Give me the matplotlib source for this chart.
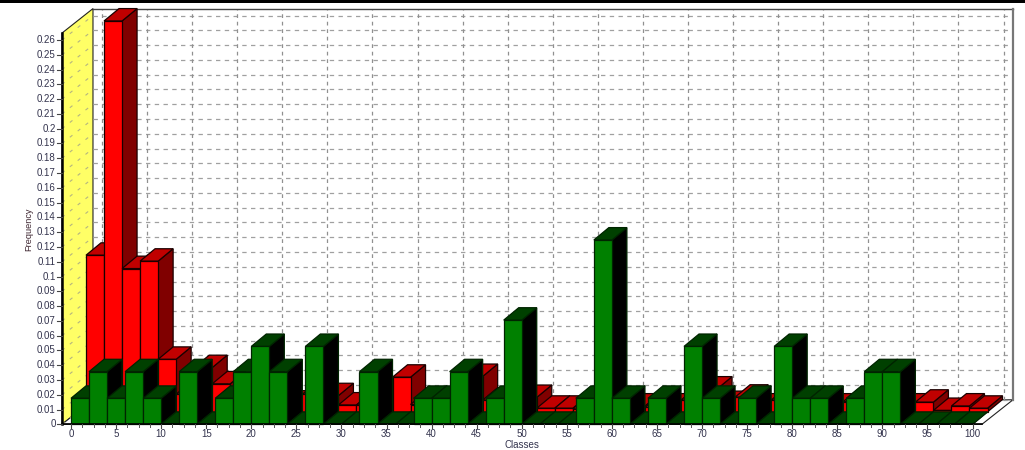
import numpy as np
from matplotlib import pyplot as plt
from matplotlib.patches import Polygon, Rectangle

plt.rcParams['font.family'] = ['Liberation Sans', 'DejaVu Sans']

# histogram classes, one bar every 2 units
classes = np.arange(0, 100, 2)

freq_back = [0.106, 0.2645, 0.097, 0.102, 0.0356, 0.012, 0.03, 0.019, 0.006, 0.004,
             0.004, 0.006, 0.012, 0.011, 0.0047, 0.0047, 0.004, 0.0235, 0.005, 0.004,
             0.004, 0.024, 0.008, 0.004, 0.0098, 0.0025, 0.0025, 0.002, 0.004, 0.004,
             0.004, 0.003, 0.004, 0.008, 0.0155, 0.0057, 0.01, 0.004, 0.008, 0.004,
             0.004, 0.004, 0.007, 0.004, 0.004, 0.004, 0.0066, 0.001, 0.004, 0.0025]

freq_front = [0.0176, 0.0356, 0.0176, 0.0356, 0.0176, 0, 0.0356, 0, 0.0176, 0.0356,
              0.0527, 0.0356, 0, 0.0527, 0, 0, 0.0356, 0, 0, 0.0176,
              0.0176, 0.0356, 0, 0.0176, 0.0705, 0, 0, 0, 0.0176, 0.1247,
              0.0176, 0, 0.0176, 0, 0.0527, 0.0176, 0, 0.0176, 0, 0.0527,
              0.0176, 0.0176, 0, 0.0176, 0.0356, 0.0356, 0, 0, 0, 0]

y_ticks = np.arange(0, 0.265, 0.01)
x_ticks = np.arange(0, 101, 5)
x_minor = np.arange(0, 100.1, 1.25)

# scale of the drawing
px_x = 9.015
px_y = 1478.0
x0_px = 71.0
y0_px = 424.3

# oblique projection offsets in data units
row_dx = 15.0 / px_x
row_dy = 12.4 / px_y
wall_dx = 31.0 / px_x
wall_dy = 24.5 / px_y
y_top = 0.2647
x_left = -1.0
x_right = 101.05
bar_w = 2.0

fig = plt.figure(figsize=(10.25, 4.5), dpi=100)
ax = fig.add_axes([0, 0, 1, 1])
ax.set_xlim(-x0_px / px_x, (1025 - x0_px) / px_x)
ax.set_ylim((y0_px - 450) / px_y, y0_px / px_y)
ax.axis('off')

# walls and floor
ax.add_patch(Polygon([(x_left, 0), (x_left + wall_dx, wall_dy), (x_left + wall_dx, wall_dy + y_top), (x_left, y_top)],
                     fc='#FFFF66', ec='#222222', lw=0.8, zorder=1))
ax.add_patch(Polygon([(x_left, 0), (x_left + wall_dx, wall_dy), (x_right + wall_dx, wall_dy), (x_right, 0)],
                     fc='white', ec='#222222', lw=0.8, zorder=1))

# dashed grid on the back wall and side wall
for v in y_ticks:
    ax.plot([x_left + wall_dx, x_right + wall_dx], [v + wall_dy, v + wall_dy], color='#a0a0a0', lw=0.9,
            dashes=(3.5, 3.5), zorder=2)
    ax.plot([x_left, x_left + wall_dx], [v, v + wall_dy], color='#b5b580', lw=0.8, dashes=(3, 6), zorder=2)
for c in x_ticks:
    ax.plot([c + wall_dx, c + wall_dx], [wall_dy, wall_dy + y_top], color='#909090', lw=0.9,
            dashes=(3, 3), zorder=2)

# frame of the back wall
ax.plot([x_left + wall_dx, x_right + wall_dx], [wall_dy + y_top, wall_dy + y_top], color='#444444', lw=1, zorder=2)
ax.plot([x_right + wall_dx, x_right + wall_dx], [wall_dy, wall_dy + y_top], color='#777777', lw=1.6, zorder=2)


def draw_row(xs, heights, dx, dy, front, top, side, edge, z):
    for x, h in zip(xs, heights):
        left = x + dx
        right = left + bar_w
        base = dy
        ax.add_patch(Polygon([(right, base), (right + row_dx, base + row_dy), (right + row_dx, base + h + row_dy),
                              (right, base + h)], fc=side, ec=edge, lw=0.9, zorder=z))
        ax.add_patch(Polygon([(left, base + h), (right, base + h), (right + row_dx, base + h + row_dy),
                              (left + row_dx, base + h + row_dy)], fc=top, ec=edge, lw=0.9, zorder=z))
        if h > 0:
            ax.bar(left, h, bar_w, bottom=base, align='edge', color=front, edgecolor=edge, lw=0.9, zorder=z)
        z += 1
    return z


z = draw_row(classes, freq_back, row_dx, row_dy, '#FF0000', '#C00000', '#800000', '#1a0000', 10)
draw_row(classes, freq_front, 0, 0, '#008000', '#004000', '#000000', '#002400', z)

# axes lines, ticks and labels
ax.plot([x_left, x_left], [0, y_top], color='black', lw=1.8, zorder=200)
ax.plot([x_left, x_right], [0, 0], color='black', lw=1.2, zorder=200)
for v in y_ticks:
    ax.plot([x_left - 0.5, x_left], [v, v], color='#444444', lw=0.8, zorder=200)
    ax.text(x_left - 0.68, v, '%g' % round(v, 2), ha='right', va='center', fontsize=7, color='#33334d')
for c in x_minor:
    ax.plot([c, c], [0, -0.0016], color='#555555', lw=0.7, zorder=200)
for c in x_ticks:
    ax.plot([c, c], [0, -0.0026], color='#444444', lw=0.8, zorder=200)
    ax.text(c, -0.0066, str(c), ha='center', va='center', fontsize=7, color='#33334d')

ax.text(50, -0.0141, 'Classes', ha='center', va='center', fontsize=7, color='#33334d')
ax.text(-4.65, 0.1318, 'Frequency', ha='center', va='center', rotation=90, fontsize=6.6, color='#3d2530')

# black strip along the top edge
fig.add_artist(Rectangle((0, 1 - 3 / 450), 1, 3 / 450, transform=fig.transFigure, fc='black', ec='none'))

plt.savefig('out.png', dpi=100)
